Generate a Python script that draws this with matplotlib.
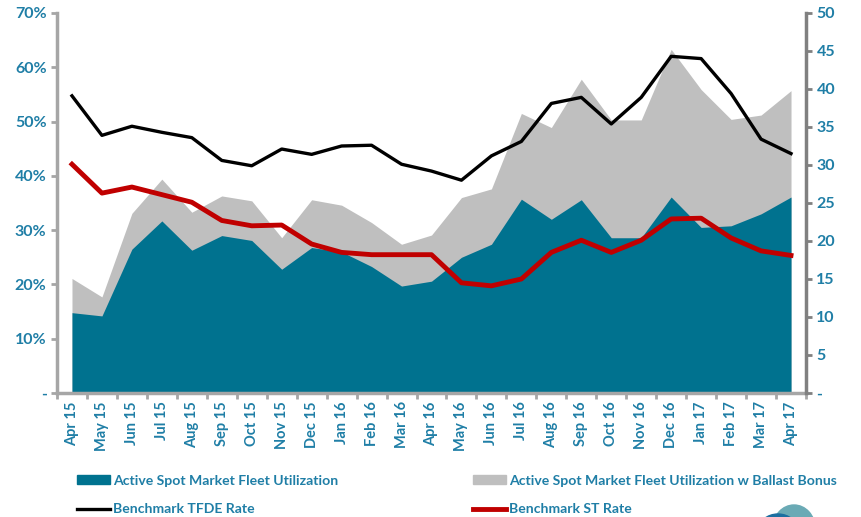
import matplotlib
matplotlib.use("Agg")
import matplotlib.pyplot as plt
from matplotlib.patches import Patch, Ellipse
from matplotlib.lines import Line2D
import numpy as np

plt.rcParams['font.family'] = ['Lato', 'DejaVu Sans']
plt.rcParams['font.weight'] = 'bold'

# --- data ---
months = ["Apr 15", "May 15", "Jun 15", "Jul 15", "Aug 15", "Sep 15", "Oct 15", "Nov 15",
          "Dec 15", "Jan 16", "Feb 16", "Mar 16", "Apr 16", "May 16", "Jun 16", "Jul 16",
          "Aug 16", "Sep 16", "Oct 16", "Nov 16", "Dec 16", "Jan 17", "Feb 17", "Mar 17", "Apr 17"]
util = [14.8, 14.2, 26.5, 31.7, 26.3, 29.0, 28.1, 22.8, 26.8, 26.0, 23.3, 19.7, 20.6,
        25.0, 27.4, 35.7, 32.0, 35.6, 28.6, 28.6, 36.1, 30.5, 30.8, 33.0, 36.1]
util_ballast = [21.1, 17.7, 33.1, 39.4, 33.3, 36.3, 35.4, 28.6, 35.6, 34.6, 31.4, 27.4, 29.1,
                36.0, 37.6, 51.5, 48.9, 57.8, 50.3, 50.3, 63.3, 55.9, 50.4, 51.2, 55.7]
tfde_rate = [39.1, 33.9, 35.1, 34.3, 33.6, 30.6, 29.9, 32.1, 31.4, 32.5, 32.6, 30.1, 29.2,
             28.0, 31.2, 33.1, 38.1, 38.9, 35.4, 38.9, 44.3, 44.0, 39.4, 33.4, 31.5]
st_rate = [30.1, 26.3, 27.1, 26.1, 25.1, 22.7, 22.0, 22.1, 19.6, 18.5, 18.2, 18.2, 18.2,
           14.5, 14.1, 15.0, 18.5, 20.1, 18.5, 20.1, 22.9, 23.0, 20.4, 18.7, 18.1]

teal = '#00728F'
gray = '#BFBFBF'
red = '#C00000'
txt = '#1F7EA6'

x = np.arange(len(months))

W, H = 861, 517
fig = plt.figure(figsize=(W / 100, H / 100), dpi=100)
ax = fig.add_axes([57/W, 1-393/H, (806-57)/W, 380/H])
ax2 = ax.twinx()

ax.fill_between(x, 0, np.array(util_ballast) / 100, color=gray, lw=0)
ax.fill_between(x, 0, np.array(util) / 100, color=teal, lw=0)
ax2.plot(x, tfde_rate, color='black', lw=2.4)
ax2.plot(x, st_rate, color=red, lw=3.5)

ax.set_xlim(-0.5, len(months) - 0.5)
ax.set_ylim(0, 0.7)
ax2.set_ylim(0, 50)

yt = np.arange(0, 0.71, 0.1)
ax.set_yticks(yt)
ax.set_yticklabels(['-'] + [f"{int(round(v*100))}%" for v in yt[1:]])
rt = np.arange(0, 51, 5)
ax2.set_yticks(rt)
ax2.set_yticklabels(['-'] + [str(v) for v in rt[1:]])

ax.set_xticks(x)
ax.set_xticklabels(months, rotation=90)
ax.set_xticks(np.arange(-0.5, len(months), 1), minor=True)
ax.tick_params(axis='x', which='major', length=0, pad=6)
ax.tick_params(axis='x', which='minor', length=4, width=2, color='#A6A6A6', direction='out')

for a in (ax, ax2):
    a.tick_params(axis='y', labelsize=11.5, labelcolor=txt, width=2, length=4)
    a.spines['top'].set_visible(False)
ax.tick_params(axis='x', labelsize=10.5, labelcolor=txt)
ax.tick_params(axis='y', color='#A6A6A6')
ax2.tick_params(axis='y', color='#808080')
ax.spines['left'].set_color('#A6A6A6')
ax.spines['left'].set_linewidth(2.5)
ax.spines['bottom'].set_color('#A6A6A6')
ax.spines['bottom'].set_linewidth(2.5)
ax.spines['right'].set_visible(False)
ax2.spines['left'].set_visible(False)
ax2.spines['bottom'].set_visible(False)
ax2.spines['right'].set_color('#808080')
ax2.spines['right'].set_linewidth(2.5)

leg_kw = dict(frameon=False, fontsize=10.1, labelcolor=txt, handlelength=2.35,
              handleheight=0.65, labelspacing=1.2, handletextpad=0.2, loc='upper left')
fig.legend(handles=[Patch(color=teal), Line2D([], [], color='black', lw=2.4)],
           labels=["Active Spot Market Fleet Utilization", "Benchmark TFDE Rate"],
           bbox_to_anchor=(64.5/W, 1-462/H), **leg_kw)
fig.legend(handles=[Patch(color=gray), Line2D([], [], color=red, lw=3.5)],
           labels=["Active Spot Market Fleet Utilization w Ballast Bonus", "Benchmark ST Rate"],
           bbox_to_anchor=(460.5/W, 1-462/H), **leg_kw)

# partly visible logo in the bottom-right corner
fig.patches.append(Ellipse((794/W, 1-528/H), 42/W, 46/H, color='#6AAAB5', transform=fig.transFigure))
fig.patches.append(Ellipse((778/W, 1-531/H), 40/W, 34/H, color='#1C6FA0', transform=fig.transFigure))

fig.savefig("out.png", dpi=100)
